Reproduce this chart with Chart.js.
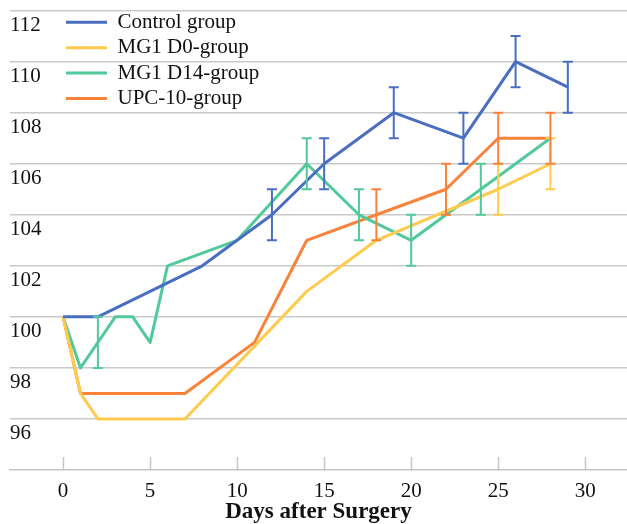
<!DOCTYPE html>
<html>
<head>
<meta charset="utf-8">
<script src="https://cdn.jsdelivr.net/npm/chart.js@4.4.0/dist/chart.umd.min.js"></script>
<style>
  html, body { margin: 0; padding: 0; background: #fff; overflow: hidden; width: 627px; height: 524px; }
  #wrap { position: absolute; left: -25px; top: -26px; width: 652px; height: 552px; }
</style>
</head>
<body>
<div id="wrap"><canvas id="chart"></canvas></div>
<script>
// ===== DATA =====
const xTicks = [0, 5, 10, 15, 20, 25, 30];
const yTicks = [96, 98, 100, 102, 104, 106, 108, 110, 112];

const controlDays = [0, 2, 8, 12, 15, 19, 23, 26, 29];
const controlVals = [100, 100, 102, 104, 106, 108, 107, 110, 109];
const controlErr  = [0, 0, 0, 1, 1, 1, 1, 1, 1];

const d0Days = [0, 1, 2, 7, 14, 18, 25, 28];
const d0Vals = [100, 97, 96, 96, 101, 103, 105, 106];
const d0Err  = [0, 0, 0, 0, 0, 0, 1, 1];

const d14Days = [0, 1, 2, 3, 4, 5, 6, 10, 14, 17, 20, 24, 28];
const d14Vals = [100, 98, 99, 100, 100, 99, 102, 103, 106, 104, 103, 105, 107];
const d14Err  = [0, 0, 1, 0, 0, 0, 0, 0, 1, 1, 1, 1, 0];

const upcDays = [0, 1, 7, 11, 14, 18, 22, 25, 28];
const upcVals = [100, 97, 97, 99, 103, 104, 105, 107, 107];
const upcErr  = [0, 0, 0, 0, 0, 1, 1, 1, 1];

const seriesNames = ["Control group", "MG1 D0-group", "MG1 D14-group", "UPC-10-group"];
const seriesColors = ["#4a6ec0", "#ffcb4f", "#52c99b", "#f9833a"];

// ===== HELPERS =====
function points(days, vals) {
  return days.map((d, i) => ({ x: d, y: vals[i] }));
}

function makeSet(i, days, vals, errs) {
  return {
    label: seriesNames[i],
    data: points(days, vals),
    errors: errs,
    borderColor: seriesColors[i],
    backgroundColor: seriesColors[i],
    borderWidth: 3,
    pointRadius: 0,
    tension: 0,
    borderJoinStyle: "round"
  };
}

// error bars drawn through the chart's scales
const errorBars = {
  id: "errorBars",
  afterDatasetsDraw(chart) {
    const { ctx } = chart;
    const x = chart.scales.x, y = chart.scales.y;
    chart.data.datasets.forEach(ds => {
      ctx.save();
      ctx.strokeStyle = ds.borderColor;
      ctx.lineWidth = 2;
      ds.data.forEach((p, j) => {
        const e = ds.errors[j];
        if (!e) return;
        const px = x.getPixelForValue(p.x);
        const top = y.getPixelForValue(p.y + e);
        const bot = y.getPixelForValue(p.y - e);
        ctx.beginPath();
        ctx.moveTo(px, top); ctx.lineTo(px, bot);
        ctx.moveTo(px - 5, top); ctx.lineTo(px + 5, top);
        ctx.moveTo(px - 5, bot); ctx.lineTo(px + 5, bot);
        ctx.stroke();
      });
      ctx.restore();
    });
  }
};

// move the legend box a bit into the plot
const legendSpot = {
  id: "legendSpot",
  beforeDraw(chart) {
    const lg = chart.legend;
    lg.left = chart.chartArea.left + 51.6;
    lg.top = chart.chartArea.top - 3.2;
  }
};

// ===== CHART =====
Chart.defaults.font.family = "'Liberation Serif', 'Times New Roman', serif";
Chart.defaults.color = "#111111";

const ctx = document.getElementById("chart").getContext("2d");

const chart = new Chart(ctx, {
  type: "line",
  data: {
    datasets: [
      makeSet(0, controlDays, controlVals, controlErr),
      makeSet(1, d0Days, d0Vals, d0Err),
      makeSet(2, d14Days, d14Vals, d14Err),
      makeSet(3, upcDays, upcVals, upcErr)
    ]
  },
  options: {
    responsive: true,
    maintainAspectRatio: false,
    animation: false,
    layout: { padding: { left: 35, right: 0, top: 0, bottom: 0 } },
    plugins: {
      title: {
        display: true,
        text: "Weight (grams)",
        align: "start",
        font: { size: 23, weight: "bold" },
        padding: { top: 0, bottom: 9 }
      },
      legend: {
        position: "chartArea",
        align: "start",
        labels: {
          usePointStyle: true,
          pointStyle: "line",
          pointStyleWidth: 41,
          padding: 4.4,
          font: { size: 21 }
        }
      },
      tooltip: { enabled: false }
    },
    scales: {
      x: {
        type: "linear",
        min: -3.05,
        max: 32.4,
        afterBuildTicks: s => { s.ticks = xTicks.map(v => ({ value: v })); },
        afterFit: s => { s.height = 56; },
        border: { display: true, color: "#c6c6c6", width: 1.5 },
        grid: { drawOnChartArea: false, drawTicks: true, tickLength: -13, tickColor: "#c6c6c6", tickWidth: 1.5 },
        ticks: { padding: 22, maxRotation: 0, font: { size: 21 }, callback: v => String(v) },
        title: {
          display: true,
          text: "Days after Surgery",
          font: { size: 23, weight: "bold" },
          padding: { top: 0, bottom: 0 }
        }
      },
      y: {
        min: 94,
        max: 112,
        afterBuildTicks: s => { s.ticks = yTicks.map(v => ({ value: v })); },
        border: { display: false },
        grid: { color: "#c9c9c9", lineWidth: 1.5, drawTicks: false },
        ticks: { mirror: true, padding: 0, labelOffset: 15, font: { size: 21 }, callback: v => String(v) }
      }
    }
  },
  plugins: [errorBars, legendSpot]
});
</script>
</body>
</html>
